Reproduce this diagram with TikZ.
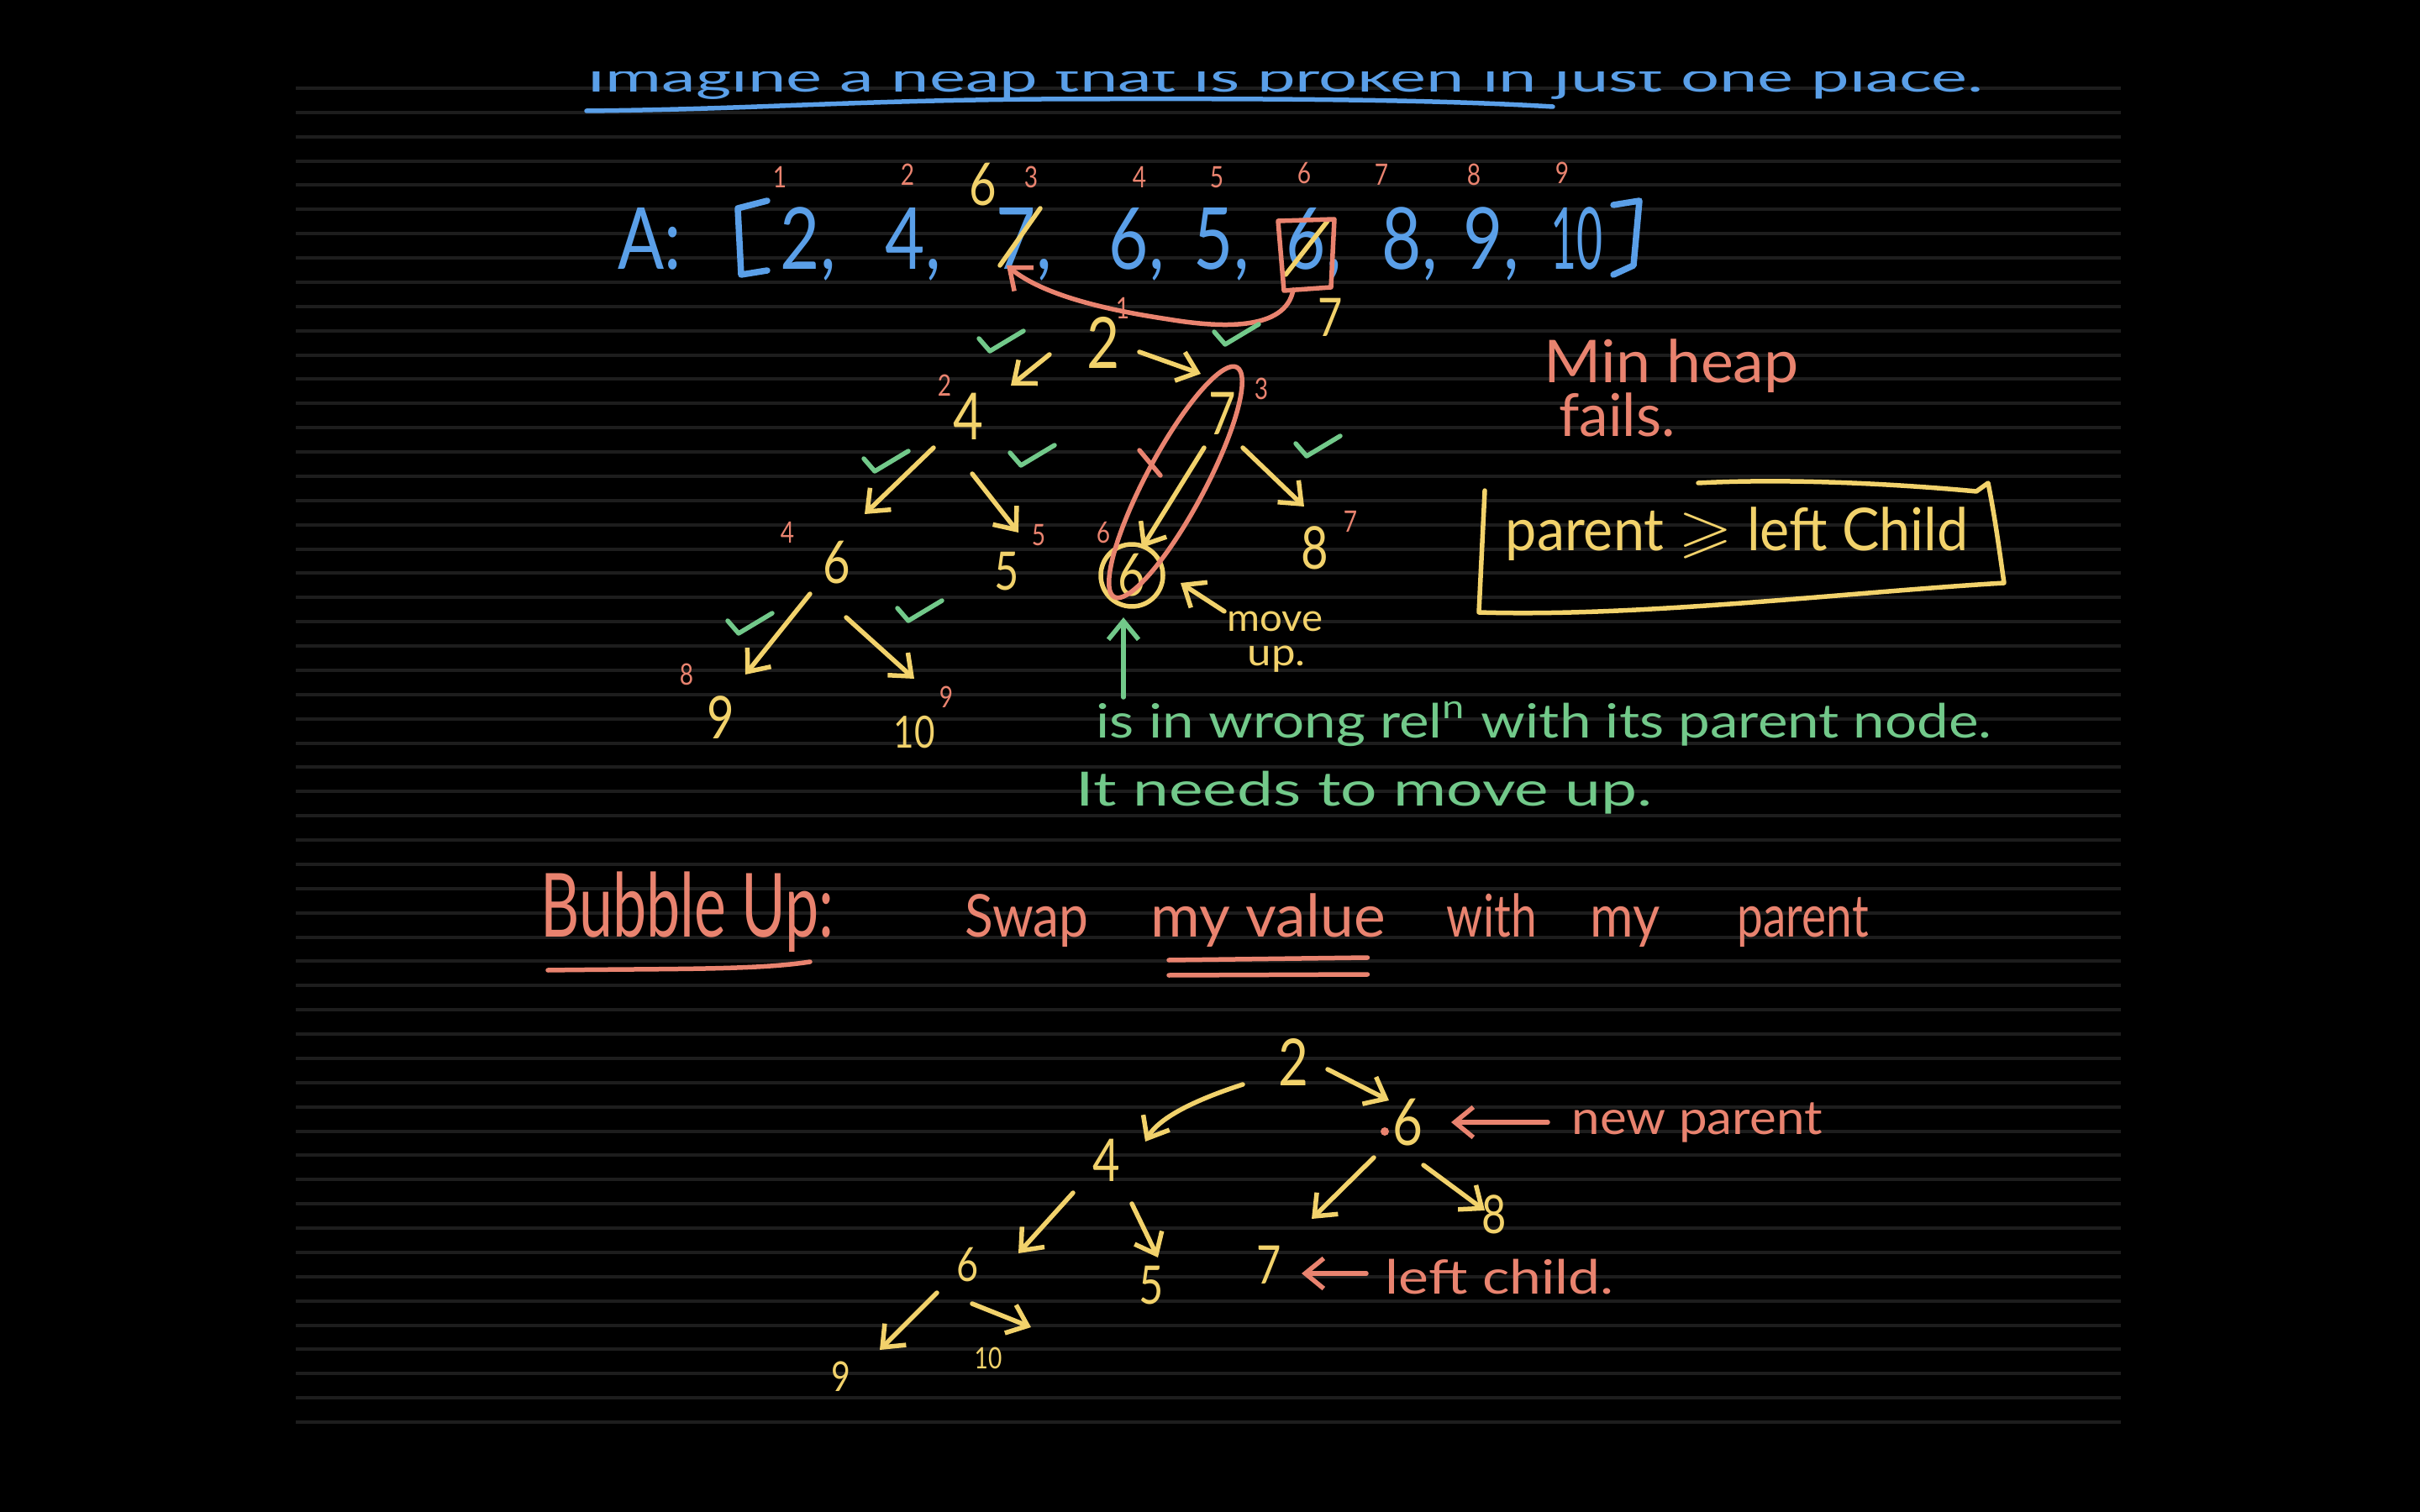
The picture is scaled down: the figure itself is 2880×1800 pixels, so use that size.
\documentclass[tikz,border=0pt]{standalone}
\usepackage{fontspec}
\usepackage{amssymb}
\usepackage{graphicx}
\usetikzlibrary{arrows.meta,calc}
\newfontfamily\hand[FakeStretch=0.8]{Lato}
\newcommand\hfs[1]{\hand\fontsize{#1}{#1}\selectfont}
\newcommand\hwid[2]{\resizebox{#1}{\height}{#2}}
\definecolor{cb}{HTML}{5A9FE8}
\definecolor{cy}{HTML}{F2D26B}
\definecolor{cg}{HTML}{72C98A}
\definecolor{cr}{HTML}{E9836F}
\definecolor{ruleg}{HTML}{1D1D1D}
\begin{document}
\begin{tikzpicture}[x=0.1mm,y=-0.1mm,
  lw/.style={line width=0.55mm, line cap=round, line join=round},
  lwb/.style={line width=0.75mm, line cap=round, line join=round},
  tip/.style={-{Straight Barb[length=2.2mm,width=3.6mm]}},
  yarrow/.style={draw=cy, lw, tip},
  garrow/.style={draw=cg, lw, tip},
  rarrow/.style={draw=cr, lw, tip},
  ruleline/.style={draw=ruleg, line width=0.4mm},
  ty/.style={text=cy, inner sep=0pt},
  tg/.style={text=cg, inner sep=0pt},
  tr/.style={text=cr, inner sep=0pt},
  tb/.style={text=cb, inner sep=0pt},
  ix/.style={text=cr, inner sep=0pt, font=\hfs{10}},
  chk/.pic={\draw[cg, lw] (-25,-5) -- (-12,10) -- (28,-14);}
]
\useasboundingbox (0,0) rectangle (2880,1800);
\fill[black] (0,0) rectangle (2880,1800);
\foreach \i in {0,...,55} {
  \draw[ruleline] (352,{105+\i*28.873}) -- (2524,{105+\i*28.873});
}

% ---- title
\node[tb, font=\hfs{14}, anchor=base west] (title) at (698,110) {\hwid{166.2mm}{Imagine a heap that is broken in just one place.}};
\draw[cb, lw] (698,132) .. controls (900,130) and (1000,120) .. (1240,118) .. controls (1500,117) and (1700,118) .. (1848,127);
\fill[black] (0,0) rectangle (2880,85);

% ---- array
\node[tb, font=\hfs{29}, anchor=base west] (aA) at (735,321) {A:};
\draw[cb, lwb] (913,239) -- (878,248) -- (882,327) -- (913,322);
\draw[cb, lwb] (1920,244) -- (1951,239) -- (1944,316) -- (1920,327);
\foreach \n/\x/\t in {a1/928/{2,}, a2/1053/{4,}, a3/1185/{7,}, a4/1319/{6,}, a5/1420/{5,}, a6/1530/{6,}, a7/1644/{8,}, a8/1741/{9,}} {
  \node[tb, font=\hfs{29}, anchor=base west] (\n) at (\x,321) {\t};
}
\node[tb, font=\hfs{29}, anchor=base west] (a9) at (1845,321) {\hwid{6.2mm}{10}};
\foreach \n/\x/\y/\t in {i1/928/211/1, i2/1080/208/2, i3/1227/211/3, i4/1356/211/4, i5/1448/211/5, i6/1552/206/6, i7/1644/208/7, i8/1754/208/8, i9/1859/206/9} {
  \node[ix] (\n) at (\x,\y) {\t};
}
\node[ty, font=\hfs{20}] (y6) at (1170,220) {6};
\draw[cy, lw] (1190,316) -- (1238,248);
\draw[cy, lw] (1530,327) -- (1580,263);
\draw[cr, lw] (1521,263) -- (1588,261) -- (1584,342) -- (1528,346) -- cycle;
\draw[rarrow] ($(a6.base west)+(9,24)$) .. controls (1530,395) and (1450,390) .. (1390,380) .. controls (1310,368) and (1240,350) .. ($(a3.base west)+(13,-5)$);
\node[ty, font=\hfs{18}] (y7) at (1583,378) {7};

% ---- tree 1
\node[ty, font=\hfs{24}] (n2) at (1313,408) {2};
\node[ty, font=\hfs{22}] (n4) at (1152,496) {4};
\node[ty, font=\hfs{20}] (n7) at (1455,492) {7};
\node[ty, font=\hfs{20}] (n6) at (996,670) {6};
\node[ty, font=\hfs{18}] (n5) at (1198,680) {5};
\node[ty, font=\hfs{20}, circle, draw=cy, lw, minimum size=7.4mm] (n6c) at (1347,685) {6};
\node[ty, font=\hfs{20}] (n8) at (1565,652) {8};
\node[ty, font=\hfs{20}] (n9) at (858,854) {9};
\node[ty, font=\hfs{15}] (n10) at (1088,872) {10};
\foreach \n/\x/\y/\t in {j1/1336/367/1, j2/1124/459/2, j3/1501/463/3, j4/937/634/4, j5/1236/637/5, j6/1313/634/6, j7/1607/621/7, j8/817/803/8, j9/1126/830/9} {
  \node[ix] (\n) at (\x,\y) {\t};
}
\draw[yarrow] ($(n2.center)+(-64,14)$) -- ($(n4.center)+(51,-37)$);
\draw[yarrow] ($(n2.center)+(43,11)$) -- ($(n7.center)+(-26,-47)$);
\draw[yarrow] ($(n4.center)+(-41,37)$) -- ($(n6.center)+(33,-58)$);
\draw[yarrow] ($(n4.center)+(5,68)$) -- ($(n5.center)+(14,-46)$);
\draw[yarrow] ($(n7.center)+(-22,41)$) -- ($(n6c.center)+(12,-33)$);
\draw[yarrow] ($(n7.center)+(24,41)$) -- ($(n8.center)+(-13,-49)$);
\draw[yarrow] ($(n6.center)+(-32,37)$) -- ($(n9.center)+(29,-51)$);
\draw[yarrow] ($(n6.center)+(11,65)$) -- ($(n10.center)+(0,-64)$);
\foreach \x/\y in {1190/408, 1470/400, 1053/551, 1227/544, 1567/533, 891/744, 1093/729} {
  \pic at (\x,\y) {chk};
}
\draw[cr, lw] plot[domain=0:360, samples=73, smooth] ({1399+155*0.471*cos(\x)+35*0.882*sin(\x)}, {574-155*0.882*cos(\x)+35*0.471*sin(\x)});
\draw[cr, lw] (1356,536) -- (1381,566);
\node[ty, font=\hfs{13}, anchor=base west] (mv) at (1460,752) {\hwid{11.4mm}{move}};
\node[ty, font=\hfs{13}, anchor=base west] (upd) at (1484,792) {\hwid{6.9mm}{up.}};
\draw[yarrow] ($(mv.north west)+(-3,0)$) -- ($(n6c.center)+(58,9)$);

% ---- green text
\node[tg, font=\hfs{16}, anchor=base west] (gt1) at (1304,878) {\hwid{106.6mm}{is in wrong rel\textsuperscript{n} with its parent node.}};
\node[tg, font=\hfs{16}, anchor=base west] (gt2) at (1280,959) {\hwid{68.6mm}{It needs to move up.}};
\draw[garrow] ($(gt1.base west)+(33,-48)$) -- ($(n6c.center)+(-10,50)$);

% ---- right notes
\node[tr, font=\hfs{20}, anchor=base west] (mh) at (1837,456) {\hwid{30.3mm}{Min heap}};
\node[tr, font=\hfs{20}, anchor=base west] (fl) at (1855,520) {\hwid{13.8mm}{fails.}};
\draw[cy, lw] (2021,575) .. controls (2150,568) and (2300,580) .. (2352,585) -- (2366,575) .. controls (2375,620) and (2380,660) .. (2385,694) .. controls (2200,705) and (1950,735) .. (1760,729) -- (1767,584);
\node[ty, font=\hfs{20}, anchor=base west] (pl) at (1791,656) {\hwid{55.1mm}{parent $\geqslant$ left Child}};

% ---- bubble up
\node[tr, font=\hfs{30}, anchor=base west] (bu) at (643,1115) {\hwid{34.9mm}{Bubble Up:}};
\draw[cr, lw] ($(bu.base west)+(9,40)$) .. controls (800,1153) and (900,1155) .. ($(bu.base west)+(321,30)$);
\node[tr, font=\hfs{20}, anchor=base west] (sw1) at (1148,1115) {\hwid{14.7mm}{Swap}};
\node[tr, font=\hfs{20}, anchor=base west] (sw2) at (1369,1115) {\hwid{27.9mm}{my value}};
\node[tr, font=\hfs{20}, anchor=base west] (sw3) at (1721,1115) {\hwid{10.7mm}{with}};
\node[tr, font=\hfs{20}, anchor=base west] (sw4) at (1892,1115) {\hwid{8.3mm}{my}};
\node[tr, font=\hfs{20}, anchor=base west] (sw5) at (2067,1115) {\hwid{15.6mm}{parent}};
\draw[cr, lw] ($(sw2.base west)+(22,28)$) -- ($(sw2.base east)+(-22,25)$);
\draw[cr, lw] ($(sw2.base west)+(22,46)$) -- ($(sw2.base east)+(-22,45)$);

% ---- tree 2
\node[ty, font=\hfs{22}] (m2) at (1539,1264) {2};
\node[ty, font=\hfs{22}] (m6) at (1675,1336) {6};
\node[ty, font=\hfs{20}] (m4) at (1317,1381) {4};
\node[ty, font=\hfs{18}] (m7) at (1510,1506) {7};
\node[ty, font=\hfs{18}] (m8) at (1778,1446) {8};
\node[ty, font=\hfs{16}] (m6b) at (1152,1506) {6};
\node[ty, font=\hfs{18}] (m5) at (1370,1530) {5};
\node[ty, font=\hfs{14}] (m9) at (1001,1639) {9};
\node[ty, font=\hfs{10}] (m10) at (1176,1617) {10};
\fill[cr] ($(m6.center)+(-27,11)$) circle (5);
\draw[yarrow] ($(m2.center)+(-60,27)$) .. controls ($(m2.center)+(-100,40)$) and ($(m4.center)+(65,-55)$) .. ($(m4.center)+(46,-22)$);
\draw[yarrow] ($(m2.center)+(41,9)$) -- ($(m6.center)+(-22,-26)$);
\draw[yarrow] ($(m6.center)+(-40,42)$) -- ($(m7.center)+(51,-55)$);
\draw[yarrow] ($(m6.center)+(19,51)$) -- ($(m8.center)+(-11,-5)$);
\draw[yarrow] ($(m4.center)+(-40,39)$) -- ($(m6b.center)+(60,-14)$);
\draw[yarrow] ($(m4.center)+(30,52)$) -- ($(m5.center)+(8,-33)$);
\draw[yarrow] ($(m6b.center)+(-37,33)$) -- ($(m9.center)+(46,-32)$);
\draw[yarrow] ($(m6b.center)+(5,46)$) -- ($(m10.center)+(51,-37)$);
\node[tr, font=\hfs{16}, anchor=base west] (np) at (1870,1350) {\hwid{29.8mm}{new parent}};
\draw[rarrow] ($(np.base west)+(-28,-14)$) -- ($(m6.center)+(52,0)$);
\node[tr, font=\hfs{16}, anchor=base west] (lc) at (1648,1540) {\hwid{27.2mm}{left child.}};
\draw[rarrow] ($(lc.base west)+(-22,-24)$) -- ($(m7.center)+(39,10)$);
\end{tikzpicture}
\end{document}
